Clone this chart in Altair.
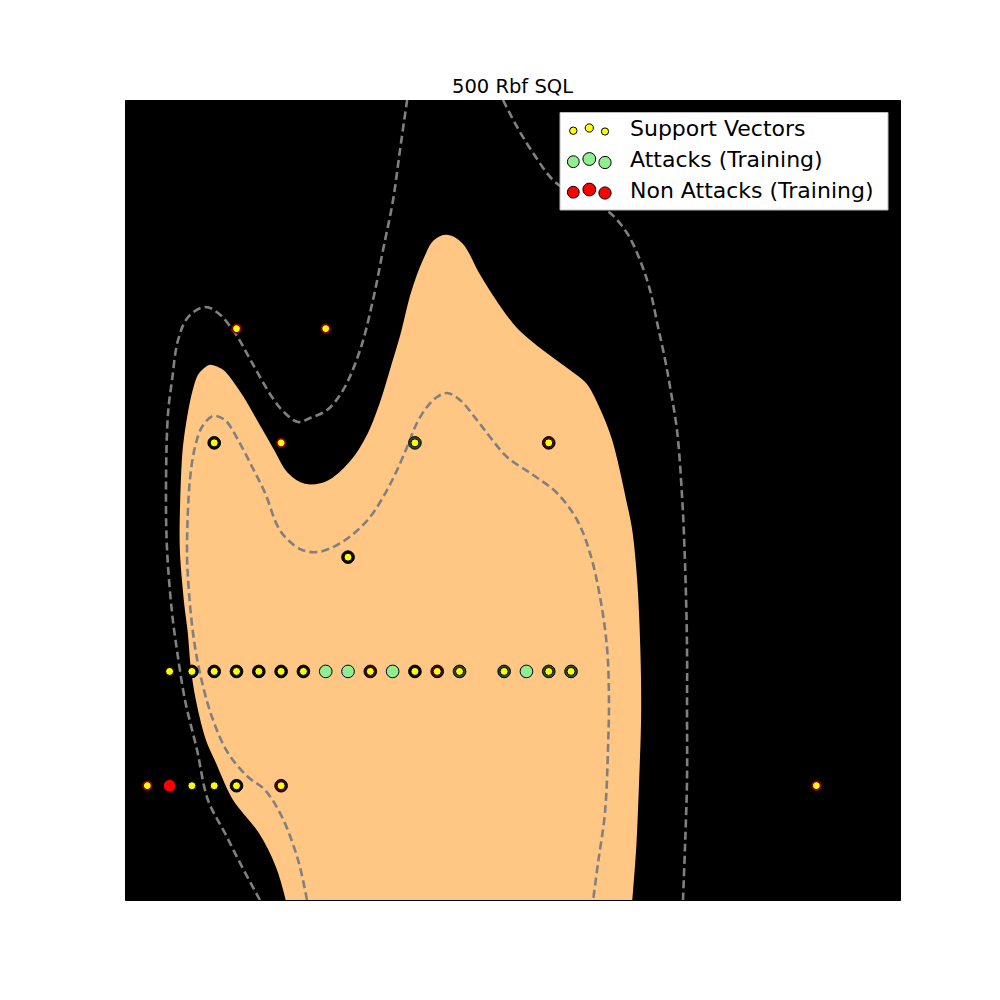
import altair as alt
import pandas as pd

# ---------------- data ----------------
TITLE = "500 Rbf SQL"

# training points
attack_x = [4, 13, 10, 3, 4, 5, 6, 7, 8, 9, 10, 12, 13, 15, 17, 18, 19, 20, 5]
attack_y = [4, 4, 3, 2, 2, 2, 2, 2, 2, 2, 2, 2, 2, 2, 2, 2, 2, 2, 1]
non_x = [4, 19, 10, 3, 4, 5, 6, 7, 8, 11, 13, 14, 2, 5, 7]
non_y = [4, 4, 3, 2, 2, 2, 2, 2, 2, 2, 2, 2, 1, 1, 1]

# support vectors
sv_x = [5, 9, 4, 7, 13, 19, 10, 2, 3, 4, 5, 6, 7, 8, 11, 13, 14, 15, 17, 19, 20, 1, 3, 4, 5, 7, 31]
sv_y = [5, 5, 4, 4, 4, 4, 3, 2, 2, 2, 2, 2, 2, 2, 2, 2, 2, 2, 2, 2, 2, 1, 1, 1, 1, 1, 1]
# support vectors drawn with a dark red edge
sv_red_x = [5, 9, 7, 1, 31]
sv_red_y = [5, 5, 4, 1, 1]

# outline of the decision region (f > 0), traced from bottom-left round to bottom-right
reg_x = [7.17, 6.73, 5.96, 4.80, 4.04, 3.59, 3.14, 2.91, 2.78, 2.60, 2.42, 2.47, 2.56, 2.78,
         3.00, 3.23, 3.50, 3.81, 4.17, 4.48, 5.25, 5.96, 6.73, 7.31, 8.07, 9.06, 10.09, 10.85,
         11.43, 11.88, 12.33, 12.78, 13.32, 13.81, 14.44, 15.16, 15.92, 16.68, 17.58, 18.61,
         19.82, 20.72, 21.30, 21.88, 22.51, 22.78, 23.00, 23.14, 23.18, 23.09, 22.96, 22.78]
reg_y = [0.000, 0.289, 0.586, 0.875, 1.199, 1.400, 1.750, 2.039, 2.336, 2.625, 3.089, 3.675,
         3.964, 4.261, 4.462, 4.594, 4.655, 4.690, 4.672, 4.637, 4.436, 4.200, 3.937, 3.745,
         3.649, 3.675, 3.850, 4.086, 4.375, 4.664, 4.961, 5.311, 5.600, 5.775, 5.827, 5.749,
         5.486, 5.250, 5.014, 4.839, 4.664, 4.524, 4.314, 4.025, 3.500, 3.237, 2.800, 2.214,
         1.636, 1.050, 0.464, 0.000]

# margin f = -1 (left branch)
m1l_x = [6.05, 5.25, 4.48, 3.72, 3.23, 2.69, 2.33, 2.11, 1.88, 1.84, 1.93, 2.11, 2.38, 2.83,
         3.59, 4.17, 4.93, 5.70, 6.59, 7.17, 7.76, 8.30, 9.06, 9.78, 10.54, 11.12, 11.57,
         12.02, 12.33, 12.65]
m1l_y = [0.000, 0.289, 0.586, 0.875, 1.312, 1.750, 2.187, 2.511, 3.089, 3.675, 4.261, 4.550,
         4.900, 5.101, 5.189, 5.136, 4.961, 4.699, 4.401, 4.261, 4.182, 4.217, 4.287, 4.462,
         4.812, 5.250, 5.687, 6.125, 6.562, 7.000]
# margin f = -1 (right branch)
m1r_x = [16.95, 17.58, 18.30, 19.19, 19.96, 20.85, 21.75, 22.51, 23.09, 23.54, 23.90, 24.22,
         24.44, 24.75, 24.98, 25.11, 25.20, 25.20, 25.20, 25.11, 25.02]
m1r_y = [7.000, 6.764, 6.536, 6.300, 6.195, 6.107, 6.011, 5.836, 5.600, 5.337, 5.014, 4.725,
         4.489, 4.112, 3.526, 2.949, 2.214, 1.636, 1.050, 0.464, 0.000]
# margin f = +1
p1_x = [8.16, 7.76, 7.04, 6.28, 5.52, 4.62, 3.90, 3.36, 3.05, 2.83, 2.78, 2.91, 3.14, 3.45,
        3.95, 4.48, 5.07, 5.70, 6.28, 6.86, 7.31, 7.94, 8.65, 9.42, 10.18, 10.99, 11.75,
        12.20, 12.65, 13.09, 13.54, 13.99, 14.44, 15.02, 15.78, 16.37, 17.13, 18.30, 19.37,
        20.27, 20.85, 21.30, 21.61, 21.70, 21.66, 21.52, 21.21, 20.99]
p1_y = [0.000, 0.350, 0.726, 0.962, 1.076, 1.286, 1.601, 1.986, 2.336, 2.800, 3.089, 3.675,
        3.964, 4.139, 4.235, 4.200, 4.025, 3.789, 3.561, 3.264, 3.150, 3.062, 3.045, 3.097,
        3.194, 3.351, 3.587, 3.762, 3.964, 4.174, 4.314, 4.401, 4.436, 4.375, 4.200, 4.051,
        3.876, 3.719, 3.561, 3.325, 3.036, 2.651, 2.214, 1.776, 1.339, 0.761, 0.324, 0.000]

legend_labels = ["Support Vectors", "Attacks (Training)", "Non Attacks (Training)"]
legend_colors = ["yellow", "lightgreen", "red"]

X_DOM = [0, 34.75]
Y_DOM = [0, 7]
FONT = "DejaVu Sans"
ORANGE = "#ffc684"

# ---------------- build tables ----------------
xs = alt.Scale(domain=X_DOM, nice=False, zero=False)
ys = alt.Scale(domain=Y_DOM, nice=False, zero=False)

region = pd.DataFrame({"x": reg_x, "y": reg_y, "i": list(range(len(reg_x)))})

curves = []
for name, cx, cy in [("m1l", m1l_x, m1l_y), ("m1r", m1r_x, m1r_y), ("p1", p1_x, p1_y)]:
    for i, (a, b) in enumerate(zip(cx, cy)):
        curves.append({"curve": name, "idx": i, "x": a, "y": b})
curves = pd.DataFrame(curves)

svset = set(zip(sv_x, sv_y))
labels = {}
for a, b in zip(attack_x, attack_y):
    labels.setdefault((a, b), set()).add("A")
for a, b in zip(non_x, non_y):
    labels.setdefault((a, b), set()).add("N")
train = []
for (a, b), s in labels.items():
    sv = (a, b) in svset
    if s == {"A", "N"}:
        kind = "mixed_sv" if sv else "mixed"
    elif s == {"A"}:
        kind = "attack_sv" if sv else "attack"
    else:
        kind = "non_sv" if sv else "non"
    train.append({"x": a, "y": b, "kind": kind})
train = pd.DataFrame(train)

redset = set(zip(sv_red_x, sv_red_y))
svs = pd.DataFrame({"x": sv_x, "y": sv_y})
svs["edge"] = ["red" if (a, b) in redset else "black" for a, b in zip(sv_x, sv_y)]

# ---------------- layers ----------------
region_layer = alt.Chart(region).mark_line(
    fill=ORANGE, stroke="black", strokeWidth=1.6, interpolate="catmull-rom", clip=True
).encode(
    x=alt.X("x:Q", scale=xs, axis=None),
    y=alt.Y("y:Q", scale=ys, axis=None),
    order="i:Q",
)

lines = alt.Chart(curves).mark_line(color="#808080", strokeWidth=2.6, strokeDash=[8, 4.2],
                                    interpolate="catmull-rom", clip=True).encode(
    x=alt.X("x:Q", scale=xs, axis=None),
    y=alt.Y("y:Q", scale=ys, axis=None),
    detail="curve:N",
    order="idx:Q",
)

train_layer = alt.Chart(train).mark_circle(size=160, stroke="black", strokeWidth=1, opacity=1).encode(
    x=alt.X("x:Q", scale=xs, axis=None),
    y=alt.Y("y:Q", scale=ys, axis=None),
    color=alt.Color("kind:N", legend=None, scale=alt.Scale(
        domain=["attack", "non", "attack_sv", "non_sv", "mixed_sv", "mixed"],
        range=["lightgreen", "red", "#2e4d2e", "#4a0000", "black", "black"])),
)

sv_layer = alt.Chart(svs).mark_circle(color="yellow", opacity=1).encode(
    x=alt.X("x:Q", scale=xs, axis=None),
    y=alt.Y("y:Q", scale=ys, axis=None),
    stroke=alt.Stroke("edge:N", legend=None, scale=alt.Scale(domain=["black", "red"],
                                                             range=["black", "#8b0000"])),
    strokeWidth=alt.StrokeWidth("edge:N", legend=None, scale=alt.Scale(domain=["black", "red"],
                                                                       range=[1, 1.8])),
    size=alt.Size("edge:N", legend=None, scale=alt.Scale(domain=["black", "red"],
                                                         range=[64, 72])),
)

# ---------------- legend ----------------
box = alt.Chart(pd.DataFrame({"a": [0]})).mark_rect(fill="white", stroke="#bbbbbb", strokeWidth=1).encode(
    x=alt.value(435), x2=alt.value(763), y=alt.value(12.5), y2=alt.value(110))

row_y = [29.5, 60.5, 91]
dx = [0, 16, 31.7]
dy = [1.2, -1.5, 2]
msize = [[55, 68, 52], [140, 165, 150], [140, 165, 150]]
leg_pts = []
for i, lab in enumerate(legend_labels):
    for j in range(3):
        leg_pts.append({"col": legend_colors[i], "px": 448.3 + dx[j], "py": row_y[i] + dy[j],
                        "s": msize[i][j]})
leg_pts = pd.DataFrame(leg_pts)
leg_marks = alt.Chart(leg_pts).mark_circle(stroke="black", strokeWidth=1, opacity=1).encode(
    x=alt.X("px:Q", scale=None),
    y=alt.Y("py:Q", scale=None),
    size=alt.Size("s:Q", scale=None, legend=None),
    fill=alt.Fill("col:N", scale=None, legend=None),
)
leg_text_df = pd.DataFrame({"lab": legend_labels, "py": [r + 6.5 for r in row_y]})
leg_text = alt.Chart(leg_text_df).mark_text(align="left", baseline="alphabetic", font=FONT,
                                            fontSize=22, color="black").encode(
    x=alt.value(505),
    y=alt.Y("py:Q", scale=None),
    text="lab:N",
)

chart = alt.layer(
    region_layer, lines, train_layer, sv_layer, box, leg_marks, leg_text
).resolve_scale(color="independent", fill="independent", stroke="independent",
                size="independent", strokeWidth="independent").properties(
    width=775, height=800,
    title=alt.TitleParams(TITLE, font=FONT, fontSize=19.5, fontWeight="normal", color="black",
                          anchor="middle", offset=3),
    autosize=alt.AutoSizeParams(type="none"),
    padding={"left": 125, "top": 100, "right": 100, "bottom": 100},
    background="white",
).configure_view(fill="black", stroke="black", strokeWidth=1)

chart.save("out.html", embed_options={"renderer": "svg", "actions": False})
